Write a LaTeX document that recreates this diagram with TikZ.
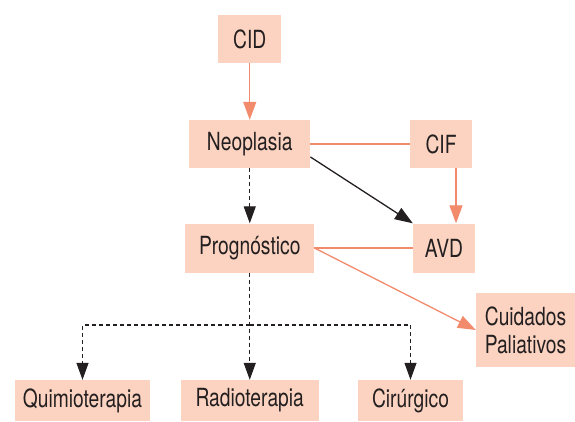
\documentclass[tikz,border=0pt]{standalone}
\usepackage{fontspec}
\setmainfont{TeX Gyre Heros}[FakeStretch=0.77]
\usepackage{tikz}
\usetikzlibrary{positioning}
\usetikzlibrary{arrows.meta}

\definecolor{boxfill}{HTML}{FCD3C0}
\definecolor{salmon}{HTML}{F28A6C}
\definecolor{ink}{HTML}{231F20}

\tikzset{
  box/.style={fill=boxfill, text=ink, inner sep=0pt, align=center,
    font=\fontsize{25}{28}\selectfont},
  redline/.style={draw=salmon, line width=1.3pt},
  redarrow/.style={redline, -{Triangle[length=18pt,width=13pt]}},
  blackarrow/.style={draw=ink, line width=1.3pt, -{Triangle[length=18pt,width=13pt]}},
  dashline/.style={draw=ink, line width=1.2pt, dash pattern=on 4pt off 3pt},
  dasharrow/.style={dashline, -{Triangle[length=17pt,width=12pt]}}
}

\begin{document}
\begin{tikzpicture}[x=1pt,y=-1pt]
  \useasboundingbox (0,0) rectangle (575,422);

  \node[box, minimum width=63pt, minimum height=48pt] (cid) at (249.75,39) {CID};
  \node[box, minimum width=121pt, minimum height=48pt] (neo) at (249.75,144) {Neoplasia};
  \node[box, minimum width=62pt, minimum height=48pt] (cif) at (441,144) {CIF};
  \node[box, minimum width=129pt, minimum height=49pt] (prog) at (249.75,248) {Prognóstico};
  \node[box, minimum width=62pt, minimum height=49pt] (avd) at (444,248) {AVD};
  \node[box, minimum width=99pt, minimum height=74pt] (cuid) at (525.5,330) {Cuidados\\Paliativos};
  \node[box, minimum width=135pt, minimum height=41pt] (quimio) at (82.5,400.5) {Quimioterapia};
  \node[box, minimum width=138pt, minimum height=41pt] (radio) at (249.75,400.5) {Radioterapia};
  \node[box, minimum width=105pt, minimum height=41pt] (cirurg) at (410.5,400.5) {Cirúrgico};
  \coordinate (bar) at (249.75,325);
  \coordinate (drop) at (456,0);

  \draw[redarrow] (cid) -- (neo);
  \draw[redline] (neo) -- (cif);
  \draw[redarrow] (cif.south -| drop) -- (avd.north -| drop);
  \draw[blackarrow] (neo.east |- 0,157) -- (avd.north west);
  \draw[redline] (prog) -- (avd);
  \draw[redarrow] (prog.east) -- (cuid.west);

  \draw[dasharrow] (neo) -- (prog);
  \draw[dasharrow] (prog) -- (radio);
  \draw[dasharrow] (bar) -| (quimio.north);
  \draw[dasharrow] (bar) -| (cirurg.north);
\end{tikzpicture}
\end{document}
